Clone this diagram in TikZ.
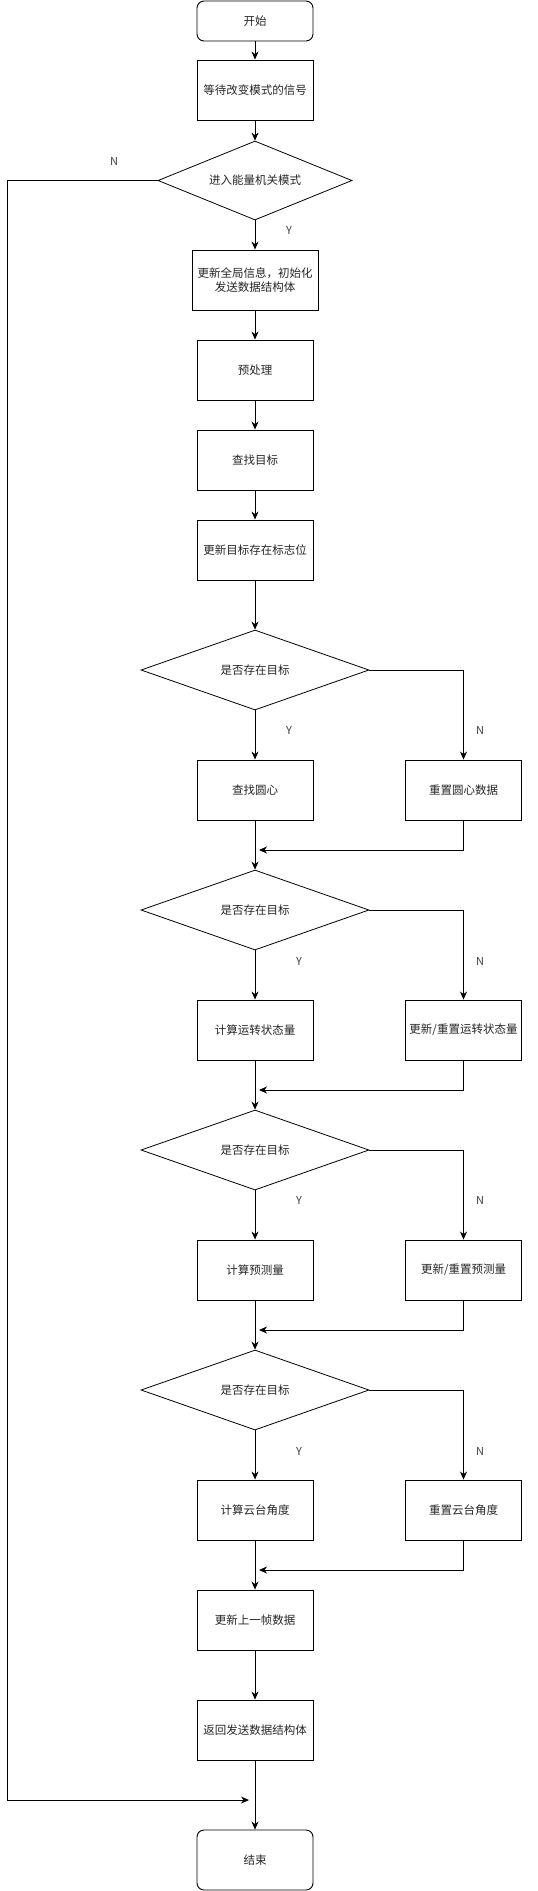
\documentclass[tikz,border=0pt]{standalone}
\usepackage{fontspec}
\newfontfamily\cjk{Noto Sans CJK SC}
\usetikzlibrary{shapes.geometric,arrows.meta}
\begin{document}
\begin{tikzpicture}[x=1pt,y=-1pt,
  every node/.style={font=\cjk\fontsize{11.5}{13.5}\selectfont, text=black!85},
  proc/.style={draw=black, line width=0.9pt, minimum width=116pt, minimum height=60pt, inner sep=0pt, align=center},
  wproc/.style={proc, minimum width=126pt},
  term/.style={proc, rounded corners=7pt},
  dec/.style={draw=black, line width=0.8pt, diamond, aspect=2.85, minimum width=228pt, minimum height=80pt, inner sep=0pt},
  yn/.style={font=\cjk\fontsize{11}{13}\selectfont, text=black!75},
  arr/.style={draw=black, line width=0.8pt, -{Stealth[length=8pt,width=7pt,inset=2.5pt]}},
  ln/.style={draw=black, line width=0.8pt}]
\useasboundingbox (0,0) rectangle (538,1891);
\fill[white] (0,0) rectangle (538,1891);
% main column
\node[term, minimum height=40pt] (start) at (255,21) {开始};
\node[proc] (wait) at (255,90) {等待改变模式的信号};
\node[dec, aspect=2.46, minimum width=194pt, minimum height=79pt] (d1) at (255,180.5) {进入能量机关模式};
\node[wproc] (init) at (255,280) {更新全局信息，初始化\\发送数据结构体};
\node[proc] (pre) at (255,370) {预处理};
\node[proc] (find) at (255,460) {查找目标};
\node[proc] (flag) at (255,550) {更新目标存在标志位};
\node[dec] (d2) at (255,670) {是否存在目标};
\node[proc] (c1) at (255,790) {查找圆心};
\node[proc] (r1) at (463.5,790) {重置圆心数据};
\node[dec] (d3) at (255,910) {是否存在目标};
\node[proc] (c2) at (255,1030) {计算运转状态量};
\node[proc] (r2) at (463.5,1030) {更新/重置运转状态量};
\node[dec] (d4) at (255,1150) {是否存在目标};
\node[proc] (c3) at (255,1270) {计算预测量};
\node[proc] (r3) at (463.5,1270) {更新/重置预测量};
\node[dec] (d5) at (255,1390) {是否存在目标};
\node[proc] (c4) at (255,1510) {计算云台角度};
\node[proc] (r4) at (463.5,1510) {重置云台角度};
\node[proc] (last) at (255,1620) {更新上一帧数据};
\node[proc] (ret) at (255,1730) {返回发送数据结构体};
\node[term] (end) at (255,1860) {结束};
% merge points
\coordinate (m1) at (259,850);
\coordinate (m2) at (259,1090);
\coordinate (m3) at (259,1330);
\coordinate (m4) at (259,1570);
\coordinate (nl) at (7,180.5);
\coordinate (nb) at (249,1800);
% arrows main
\draw[arr] (start) -- (wait);
\draw[arr] (wait) -- (d1);
\draw[arr] (d1) -- (init);
\draw[arr] (init) -- (pre);
\draw[arr] (pre) -- (find);
\draw[arr] (find) -- (flag);
\draw[arr] (flag) -- (d2);
\draw[arr] (d2) -- (c1);
\draw[arr] (c1) -- (d3);
\draw[arr] (d3) -- (c2);
\draw[arr] (c2) -- (d4);
\draw[arr] (d4) -- (c3);
\draw[arr] (c3) -- (d5);
\draw[arr] (d5) -- (c4);
\draw[arr] (c4) -- (last);
\draw[arr] (last) -- (ret);
\draw[arr] (ret) -- (end);
% N branches
\draw[arr] (d2.east) -| (r1.north);
\draw[arr] (d3.east) -| (r2.north);
\draw[arr] (d4.east) -| (r3.north);
\draw[arr] (d5.east) -| (r4.north);
\draw[arr] (r1.south) |- (m1);
\draw[arr] (r2.south) |- (m2);
\draw[arr] (r3.south) |- (m3);
\draw[arr] (r4.south) |- (m4);
\draw[arr] (d1.west) -- (nl) |- (nb);
% labels
\node[yn] (n0) at (114,161) {N};
\node[yn] (y0) at (289,230) {Y};
\node[yn] (y1) at (289,730) {Y};
\node[yn] (n1) at (480,730) {N};
\node[yn] (y2) at (299,961) {Y};
\node[yn] (n2) at (480,961) {N};
\node[yn] (y3) at (299,1200) {Y};
\node[yn] (n3) at (480,1200) {N};
\node[yn] (y4) at (299,1451) {Y};
\node[yn] (n4) at (480,1451) {N};
\end{tikzpicture}
\end{document}
